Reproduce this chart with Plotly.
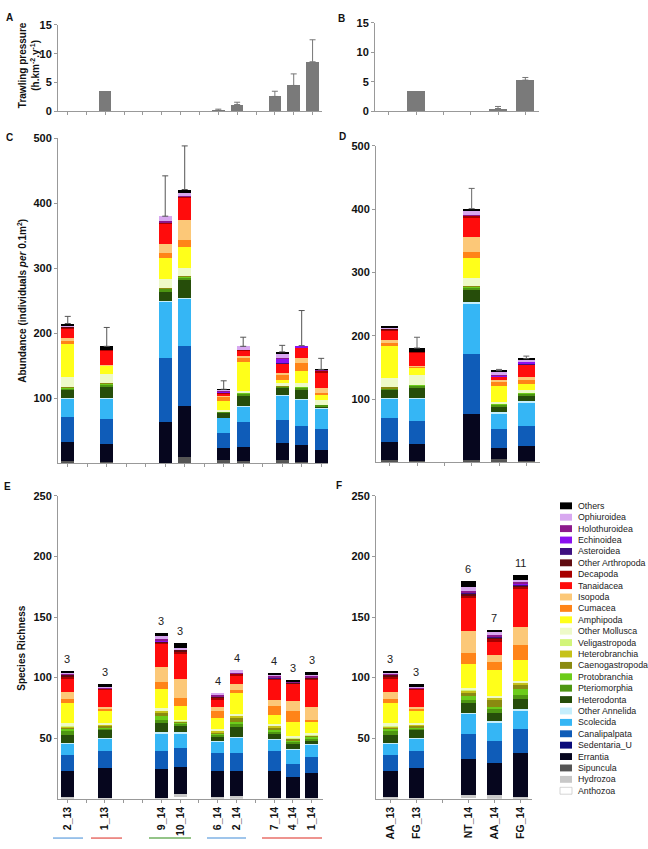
import plotly.graph_objects as go

W, H = 648, 849

# ---------------- data ----------------
taxa = ["Anthozoa", "Hydrozoa", "Sipuncula", "Errantia", "Sedentaria_U", "Canalipalpata",
        "Scolecida", "Other Annelida", "Heterodonta", "Pteriomorphia", "Protobranchia",
        "Caenogastropoda", "Heterobranchia", "Veligastropoda", "Other Mollusca", "Amphipoda",
        "Cumacea", "Isopoda", "Tanaidacea", "Decapoda", "Other Arthropoda", "Asteroidea",
        "Echinoidea", "Holothuroidea", "Ophiuroidea", "Others"]
taxa_colors = ["#ffffff", "#c8c8c8", "#555555", "#06061e", "#0a0a7a", "#0f5cb8",
               "#35b6f5", "#c5eefc", "#264d0a", "#4e9612", "#6ccc1a",
               "#8a8a10", "#c6c218", "#d2f57a", "#eefac8", "#ffff1a",
               "#ff8418", "#fcc878", "#ff0c0c", "#a80000", "#600c12", "#3e1080",
               "#8a10f0", "#8c1a8c", "#d8a8f0", "#000000"]

sites_left = ["2_13", "1_13", "9_14", "10_14", "6_14", "2_14", "7_14", "4_14", "1_14"]
slots_left = [0, 2, 5, 6, 8, 9, 11, 12, 13]
sites_right = ["AA_13", "FG_13", "NT_14", "AA_14", "FG_14"]
slots_right = [0, 1, 3, 4, 5]

# Trawling pressure (h.km-2.y-1)
trawl_A = [0, 3.6, 0, 0, 0.2, 1.2, 2.6, 4.5, 8.6]
trawl_A_err = [0, 0, 0, 0, 0.2, 0.4, 0.9, 2.0, 3.8]
trawl_B = [0, 3.5, 0, 0.5, 5.3]
trawl_B_err = [0, 0, 0, 0.35, 0.45]

# Abundance per site (stack order = taxa)
abund_2_13 = [0, 0, 3, 30, 0, 38, 29, 1, 12, 2, 1, 1, 0, 0, 16, 51, 4, 5, 14, 2, 1, 0, 0, 1, 1, 3]
abund_1_13 = [0, 0, 2, 28, 0, 38, 32, 0.5, 17.5, 3, 1, 1, 0, 0, 15, 12, 1, 1, 21, 1, 0, 0, 0, 0, 0, 6]
abund_9_14 = [0, 0, 1, 62, 0, 99, 86, 1, 15, 4, 1, 1, 0, 0, 14, 31, 9, 14, 30, 2, 0, 0, 0, 3, 7, 0]
abund_10_14 = [0, 0, 10, 79, 0, 91, 73, 1, 28, 4, 1, 1, 0, 0, 12, 33, 10, 31, 34, 2, 0, 0, 0, 1, 5, 5]
abund_6_14 = [0, 0, 6, 18, 0, 23, 23, 0.5, 7.5, 1.5, 0.5, 0, 0, 0, 2, 14, 6, 2, 4, 0.5, 0, 0.5, 2, 0.5, 2, 0.5]
abund_2_14 = [0, 0, 3, 22, 0, 38, 25, 1, 15.5, 3, 1, 1, 0, 0, 2, 45, 6, 3, 8, 1, 0, 0, 0, 0.5, 5, 0]
abund_7_14 = [0, 0, 5, 26, 0, 35, 38, 1, 11, 2, 0.5, 0.5, 0, 0, 4, 6, 8, 2, 14, 0.5, 0, 1, 6, 1, 8, 2]
abund_4_14 = [0, 0, 2, 27, 0, 28, 41, 1, 15, 2, 1, 0, 0, 0, 7, 18, 12, 8, 15, 0, 0, 0, 4, 0, 0, 0]
abund_1_14 = [0, 0, 1, 20, 0, 32, 32, 0.5, 2.5, 1.5, 0, 0, 0, 0, 7.5, 9, 2, 8, 24, 2, 0, 1, 0, 1, 0, 0.5]
abund_err_left = [11, 29, 62, 67, 13, 14, 10, 54, 17]

abund_AA_13 = [0, 0, 4, 28, 0, 37.5, 31, 1, 13, 2, 1, 1, 0, 0, 14.5, 51.5, 4, 4.5, 15, 2, 1, 0, 0, 1, 1, 3]
abund_FG_13 = [0, 0, 2, 27.5, 0, 36.3, 34.8, 1, 17, 2.5, 1, 0, 0, 0, 15.7, 13, 1, 1, 21, 1, 0, 0, 0, 0, 0, 6]
abund_NT_14 = [0, 0, 4, 72, 0, 94.6, 79.4, 3.5, 19.5, 4, 1, 1, 0, 0, 12, 32.5, 9.5, 23, 31, 3, 0, 0, 0, 1, 6, 4]
abund_AA_14 = [0, 0, 5, 18, 0, 29.4, 24.9, 1.7, 10, 2.5, 1, 0, 0, 0, 2.5, 26, 7, 2, 6, 0.5, 0, 0, 0.5, 1, 5, 2]
abund_FG_14 = [0, 0, 3, 23.4, 0, 31.1, 37.8, 1.7, 8.8, 3, 1, 0.2, 0, 0, 4.6, 9.4, 6.6, 5.2, 18.2, 0.5, 0, 0.5, 4, 0.5, 3.3, 1.2]
abund_err_right = [0, 17, 32, 2, 4]

# Species richness per site (stack order = taxa)
rich_2_13 = [0, 1, 0, 21.8, 0, 13.1, 9.5, 0.6, 6.8, 2.7, 2.1, 1.4, 0.7, 0.7, 1.8, 17.2, 2.6, 6, 11, 2, 1.5, 0.2, 0, 0.3, 0.5, 2]
rich_1_13 = [0, 0.5, 0, 25.1, 0, 13.8, 10.1, 0.5, 6.8, 1.4, 0.8, 1.5, 0.7, 0.4, 0.8, 10.4, 1.6, 1.4, 14.6, 0.4, 0.3, 0, 0, 0.7, 0.4, 2.2]
rich_9_14 = [0, 0.5, 0, 24, 0, 14.9, 14.6, 1, 7.2, 2.8, 3, 3.2, 1.3, 0.5, 1.5, 16.3, 5.4, 12.5, 19.1, 1.2, 0.6, 0.5, 0.3, 1.2, 2.4, 3]
rich_10_14 = [1, 2.8, 0, 22, 0, 16, 12.2, 1, 5.4, 1.6, 0.8, 0.7, 0.4, 0.3, 0.6, 11.9, 6.7, 15.6, 20.7, 1.8, 1.3, 0, 0, 0.7, 1.3, 3.5]
rich_6_14 = [0, 1.5, 0, 21.3, 0, 15, 9.5, 0.4, 3.1, 1.9, 0.8, 1.4, 1.1, 0.4, 1.2, 9.4, 5.6, 2.7, 6.8, 1.4, 0.5, 0.5, 0, 1.4, 1.2, 0]
rich_2_14 = [0, 2, 0, 20.8, 0, 15, 13, 0.5, 8.2, 2.7, 1.4, 3.4, 1.5, 0.5, 1.3, 17.2, 1.9, 5, 7.6, 1, 0.3, 0, 0, 0.5, 2.8, 0]
rich_7_14 = [0, 0.8, 0, 22, 0, 16.4, 9.5, 0.8, 4.1, 1.7, 1, 2.7, 1.4, 0.3, 1, 7.4, 7.6, 4.9, 16.8, 0.8, 0.3, 0.5, 0.4, 1, 0.4, 1.9]
rich_4_14 = [0, 0.5, 0, 17.7, 0, 10.1, 12.2, 0.8, 4.6, 1.4, 0.7, 1.5, 0.5, 0.4, 1, 12.2, 9, 8.1, 14.2, 0.5, 0.3, 0.3, 0, 0.5, 0.4, 1.4]
rich_1_14 = [0, 0.5, 0, 20.5, 0, 13, 10.6, 0.8, 2.2, 1.9, 1.9, 0.6, 0.5, 0.5, 1.4, 9, 1.4, 10.9, 23.1, 0.8, 0.4, 0.4, 0, 1, 0.4, 3]
rich_n_left = ["3", "3", "3", "3", "4", "4", "4", "3", "3"]

rich_AA_13 = [0, 1, 0, 21.8, 0, 13.1, 9.5, 0.6, 6.8, 2.7, 2.1, 1.4, 0.7, 0.7, 1.8, 17.2, 2.6, 6, 11, 2, 1.5, 0.2, 0, 0.3, 0.5, 2]
rich_FG_13 = [0, 0.5, 0, 25.1, 0, 13.8, 10.1, 0.5, 6.8, 1.4, 0.8, 1.5, 0.7, 0.4, 0.8, 10.4, 1.6, 1.4, 14.6, 0.4, 0.3, 0, 0, 0.7, 0.4, 2.2]
rich_NT_14 = [0.5, 2.5, 0, 29.6, 0, 20.4, 17, 1, 7.6, 3, 3.2, 3.2, 1.5, 0.5, 1, 20.2, 9.5, 18, 26.9, 2.4, 1.5, 0.5, 0.3, 1.5, 2.7, 5.5]
rich_AA_14 = [0, 3, 0, 26.6, 0, 18.4, 15, 1, 6.7, 3.2, 1.7, 6.4, 1.4, 0.4, 0.6, 21.6, 6.8, 6, 10.9, 2.3, 1, 0.6, 0.4, 1, 2.8, 1.2]
rich_FG_14 = [0, 1, 0, 36.3, 0, 20.4, 14.9, 1.4, 8.6, 3.4, 4.3, 3.3, 2.1, 0.5, 0.8, 17.8, 12.2, 14.4, 31.8, 1.8, 0.8, 1, 1, 1.5, 1, 4.7]
rich_n_right = ["3", "3", "6", "7", "11"]

abund_left = [abund_2_13, abund_1_13, abund_9_14, abund_10_14, abund_6_14, abund_2_14, abund_7_14, abund_4_14, abund_1_14]
abund_right = [abund_AA_13, abund_FG_13, abund_NT_14, abund_AA_14, abund_FG_14]
rich_left = [rich_2_13, rich_1_13, rich_9_14, rich_10_14, rich_6_14, rich_2_14, rich_7_14, rich_4_14, rich_1_14]
rich_right = [rich_AA_13, rich_FG_13, rich_NT_14, rich_AA_14, rich_FG_14]

group_lines = [(53, 83, "#7fb2e5"), (91, 122, "#e8706a"), (149, 191, "#70b060"),
               (207, 246, "#7fb2e5"), (262, 322, "#e8706a")]

# ---------------- helpers ----------------
FONT = "Liberation Sans, Arial, sans-serif"


def px(x):
    return x / W


def py(y):
    return 1 - y / H


fig = go.Figure()


def stacked(site_vals, slots, xa, ya, width):
    for k, name in enumerate(taxa):
        fig.add_trace(go.Bar(
            x=slots, y=[s[k] for s in site_vals], width=width,
            marker=dict(color=taxa_colors[k], line=dict(width=0)),
            name=name, xaxis=xa, yaxis=ya, showlegend=False, hoverinfo="name+y"))


def errors(slots, tops, errs, xa, ya, color):
    xs = [s for s, e in zip(slots, errs) if e > 0]
    ys = [t for t, e in zip(tops, errs) if e > 0]
    es = [e for e in errs if e > 0]
    fig.add_trace(go.Scatter(
        x=xs, y=ys, mode="markers", marker=dict(size=1, opacity=0),
        error_y=dict(type="data", array=es, arrayminus=[0] * len(es), symmetric=False,
                     color=color, thickness=1, width=3),
        xaxis=xa, yaxis=ya, showlegend=False, hoverinfo="skip"))


# Panel A / B
fig.add_trace(go.Bar(x=slots_left, y=trawl_A, width=0.67, marker=dict(color="#7a7a7a", line=dict(width=0)),
                     xaxis="x", yaxis="y", showlegend=False))
errors(slots_left, trawl_A, trawl_A_err, "x", "y", "#777777")
fig.add_trace(go.Bar(x=slots_right, y=trawl_B, width=0.65, marker=dict(color="#7a7a7a", line=dict(width=0)),
                     xaxis="x2", yaxis="y2", showlegend=False))
errors(slots_right, trawl_B, trawl_B_err, "x2", "y2", "#777777")

# Panel C / D
stacked(abund_left, slots_left, "x3", "y3", 0.66)
errors(slots_left, [sum(s) for s in abund_left], abund_err_left, "x3", "y3", "#555555")
stacked(abund_right, slots_right, "x4", "y4", 0.62)
errors(slots_right, [sum(s) for s in abund_right], abund_err_right, "x4", "y4", "#666666")

# Panel E / F
stacked(rich_left, slots_left, "x5", "y5", 0.7)
stacked(rich_right, slots_right, "x6", "y6", 0.6)

annotations = []
for s, v, t in zip(slots_left, rich_left, rich_n_left):
    annotations.append(dict(x=s, y=sum(v), xref="x5", yref="y5", text=t, showarrow=False,
                            yanchor="bottom", yshift=4, font=dict(size=11, color="#222", family=FONT)))
for s, v, t in zip(slots_right, rich_right, rich_n_right):
    annotations.append(dict(x=s, y=sum(v), xref="x6", yref="y6", text=t, showarrow=False,
                            yanchor="bottom", yshift=4, font=dict(size=11, color="#222", family=FONT)))

# ---------------- axes ----------------
tickfont = dict(family=FONT, size=11, color="#111", weight="bold")


def xax(dom, rng, anchor, nslots, labels=None, label_slots=None):
    base = dict(domain=[px(dom[0]), px(dom[1])], range=rng, anchor=anchor,
                showline=True, linecolor="#999", linewidth=1, ticks="outside", ticklen=3,
                tickcolor="#999", tickangle=-90,
                tickfont=dict(family=FONT, size=10.5, color="#111", weight="bold"),
                showgrid=False, zeroline=False, fixedrange=True)
    if labels:
        gaps = [i for i in range(nslots) if i not in label_slots]
        base.update(tickvals=label_slots, ticktext=labels,
                    minor=dict(tickvals=gaps, ticks="outside", ticklen=3, tickcolor="#999",
                               showgrid=False))
    else:
        base.update(tickvals=list(range(nslots)), showticklabels=False)
    return base


def yax(dom, rng, anchor, tickvals):
    return dict(domain=[py(dom[1]), py(dom[0])], range=rng, anchor=anchor,
                showline=True, linecolor="#999", linewidth=1, ticks="outside", ticklen=3,
                tickcolor="#999", tickvals=tickvals, tickfont=tickfont,
                showgrid=False, zeroline=False, fixedrange=True)


layout = dict(
    width=W, height=H, margin=dict(l=0, r=0, t=0, b=0),
    paper_bgcolor="white", plot_bgcolor="white", barmode="stack", showlegend=False,
    font=dict(family=FONT),
    xaxis=xax((58, 322), [-0.5, 13.5], "y", 14),
    yaxis=yax((19, 107), [0, 15], "x", [0, 5, 10, 15]),
    xaxis2=xax((375, 539), [-0.5, 5.5], "y2", 6),
    yaxis2=yax((17, 107), [0, 15], "x2", [0, 5, 10, 15]),
    xaxis3=xax((58, 328), [-0.5, 13.35], "y3", 14),
    yaxis3=yax((134, 464), [0, 500], "x3", [100, 200, 300, 400, 500]),
    xaxis4=xax((376, 540), [-0.5, 5.5], "y4", 6),
    yaxis4=yax((142, 463), [0, 500], "x4", [100, 200, 300, 400, 500]),
    xaxis5=xax((58, 323), [-0.5, 13.6], "y5", 14, sites_left, slots_left),
    yaxis5=yax((497, 804), [0, 250], "x5", [50, 100, 150, 200, 250]),
    xaxis6=xax((376, 532), [-0.55, 5.45], "y6", 6, sites_right, slots_right),
    yaxis6=yax((497, 804), [0, 250], "x6", [50, 100, 150, 200, 250]),
)

# panel letters
for letter, (lx, ly) in zip("ABCDEF", [(4, 12), (336, 13), (4, 133), (337, 132), (2, 487), (334, 486)]):
    annotations.append(dict(x=px(lx), y=py(ly), xref="paper", yref="paper", text=letter, showarrow=False,
                            xanchor="left", yanchor="middle",
                            font=dict(family=FONT, size=10, color="#111", weight="bold")))

# axis titles
titles = [("Trawling pressure<br>(h.km<sup>-2</sup>.y<sup>-1</sup>)", 29, 60),
          ("Abundance (individuals <i>per</i> 0.1m<sup>2</sup>)", 22, 299),
          ("Species Richness", 22, 652)]
for txt, tx, ty in titles:
    annotations.append(dict(x=px(tx), y=py(ty), xref="paper", yref="paper", text=txt, showarrow=False,
                            textangle=-90, xanchor="center", yanchor="middle",
                            font=dict(family=FONT, size=10, color="#111", weight="bold")))

# legend (manual, top = Others)
shapes = []
leg_order = list(range(len(taxa)))[::-1]
for i, k in enumerate(leg_order):
    yc = 507 + i * 11.56
    shapes.append(dict(type="rect", xref="paper", yref="paper",
                       x0=px(560), x1=px(572), y0=py(yc + 3.5), y1=py(yc - 3.5),
                       fillcolor=taxa_colors[k],
                       line=dict(width=0.6 if taxa_colors[k] == "#ffffff" else 0, color="#bbb")))
    annotations.append(dict(x=px(576), y=py(yc), xref="paper", yref="paper", text=taxa[k],
                            showarrow=False, xanchor="left", yanchor="middle",
                            font=dict(family=FONT, size=8.8, color="#222")))

# group underlines
for x0, x1, c in group_lines:
    shapes.append(dict(type="line", xref="paper", yref="paper", x0=px(x0), x1=px(x1),
                       y0=py(844), y1=py(844), line=dict(color=c, width=1.5)))

layout["annotations"] = annotations
layout["shapes"] = shapes
fig.update_layout(**layout)

fig.write_html("out.html")
